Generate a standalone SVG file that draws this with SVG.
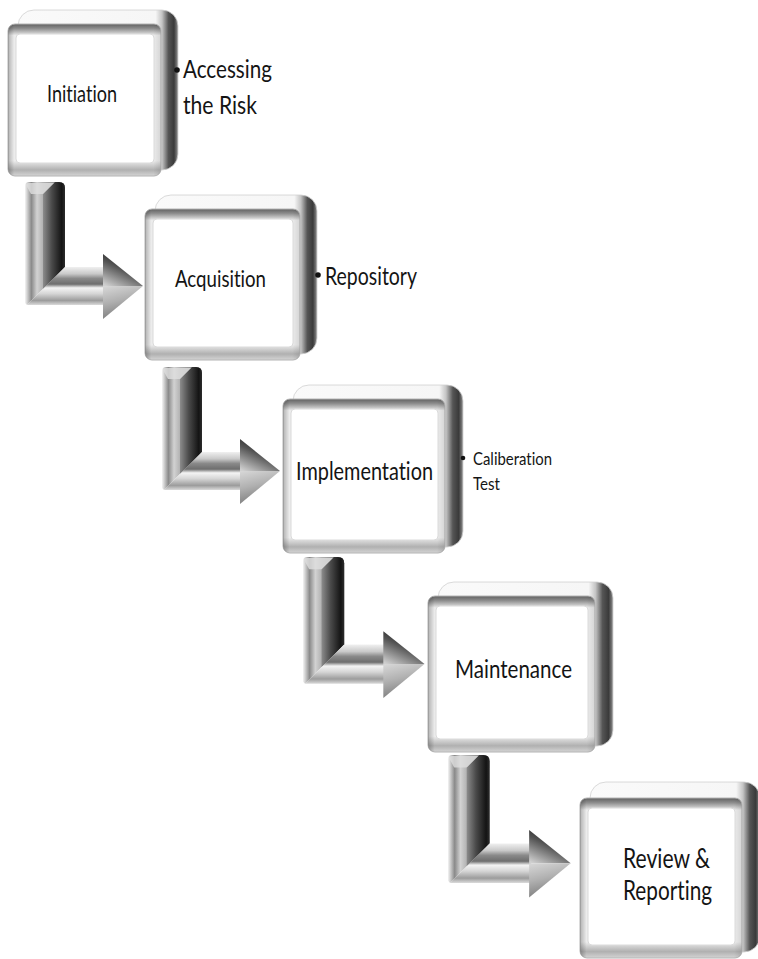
<svg xmlns="http://www.w3.org/2000/svg" width="758" height="959" viewBox="0 0 758 959">
  <style>
    .lbl { font-family: Lato, "Open Sans", "Liberation Sans", sans-serif; fill: #141414; font-variant-ligatures: none; font-feature-settings: "liga" 0; }
    .frame { fill: url(#frameGrad); stroke: #b4b4b4; stroke-width: 1; }
    .frameSide { fill: url(#frameSide); }
    .ext { fill: url(#extGrad); stroke: #d0d0d0; stroke-width: 0.8; }
    .face { fill: #ffffff; stroke: #dadada; stroke-width: 1; }
    .dot { fill: #111111; }
  </style>
  <defs>
    <!-- extruded back of each box: near-white top, dark rounded right side -->
    <linearGradient id="extGrad" x1="0" y1="0" x2="1" y2="0">
      <stop offset="0" stop-color="#fafafa"/>
      <stop offset="0.86" stop-color="#f6f6f6"/>
      <stop offset="0.9" stop-color="#c4c4c4"/>
      <stop offset="0.94" stop-color="#555555"/>
      <stop offset="0.975" stop-color="#3a3a3a"/>
      <stop offset="1" stop-color="#909090"/>
    </linearGradient>
    <!-- bevelled front frame -->
    <linearGradient id="frameGrad" x1="0" y1="0" x2="0" y2="1">
      <stop offset="0" stop-color="#606060"/>
      <stop offset="0.03" stop-color="#8e8e8e"/>
      <stop offset="0.075" stop-color="#ececec"/>
      <stop offset="0.9" stop-color="#ececec"/>
      <stop offset="0.96" stop-color="#b0b0b0"/>
      <stop offset="1" stop-color="#d4d4d4"/>
    </linearGradient>
    <linearGradient id="frameSide" x1="0" y1="0" x2="1" y2="0">
      <stop offset="0" stop-color="#000" stop-opacity="0.25"/>
      <stop offset="0.04" stop-color="#000" stop-opacity="0"/>
      <stop offset="0.95" stop-color="#000" stop-opacity="0"/>
      <stop offset="1" stop-color="#000" stop-opacity="0.1"/>
    </linearGradient>
    <!-- L-arrow shading -->
    <linearGradient id="aLeft" x1="0" y1="0" x2="1" y2="0">
      <stop offset="0" stop-color="#f4f4f4"/>
      <stop offset="0.07" stop-color="#c6c6c6"/>
      <stop offset="0.16" stop-color="#8a8a8a"/>
      <stop offset="0.3" stop-color="#d2d2d2"/>
      <stop offset="0.45" stop-color="#b2b2b2"/>
      <stop offset="1" stop-color="#707070"/>
    </linearGradient>
    <linearGradient id="aDark" x1="0" y1="0" x2="1" y2="0">
      <stop offset="0" stop-color="#8c8c8c"/>
      <stop offset="0.4" stop-color="#4a4a4a"/>
      <stop offset="0.85" stop-color="#141414"/>
      <stop offset="1" stop-color="#2c2c2c"/>
    </linearGradient>
    <linearGradient id="aShaft" x1="0" y1="0" x2="0" y2="1">
      <stop offset="0" stop-color="#f0f0f0"/>
      <stop offset="0.18" stop-color="#c9c9c9"/>
      <stop offset="0.3" stop-color="#8a8a8a"/>
      <stop offset="0.45" stop-color="#6e6e6e"/>
      <stop offset="0.55" stop-color="#f4f4f4"/>
      <stop offset="0.7" stop-color="#d6d6d6"/>
      <stop offset="0.88" stop-color="#9c9c9c"/>
      <stop offset="1" stop-color="#dadada"/>
    </linearGradient>
    <linearGradient id="aHeadTop" x1="0.7" y1="0" x2="0.1" y2="1">
      <stop offset="0" stop-color="#0c0c0c"/>
      <stop offset="0.45" stop-color="#545454"/>
      <stop offset="1" stop-color="#cfcfcf"/>
    </linearGradient>
    <linearGradient id="aHeadBot" x1="0" y1="0" x2="0.3" y2="1">
      <stop offset="0" stop-color="#d8d8d8"/>
      <stop offset="0.5" stop-color="#b0b0b0"/>
      <stop offset="1" stop-color="#7c7c7c"/>
    </linearGradient>
    <g id="lArrow">
      <path d="M0,4 Q0,0 4,0 L34,0 Q40,0 40,6 L40,85 L2,123 L0,121 Z" fill="url(#aLeft)"/>
      <path d="M18,12 L30,0 L34,0 Q40,0 40,6 L40,85 L18,107 Z" fill="url(#aDark)"/>
      <path d="M1,3 Q1,1 4,1 L29,1 L18,12 L6,12 Z" fill="#dedede" opacity="0.8"/>
      <path d="M40,85 L80,85 L80,123 L2,123 Z" fill="url(#aShaft)"/>
      <path d="M78,72 L118,104 L78,104 Z" fill="url(#aHeadTop)"/>
      <path d="M78,104 L118,104 L78,137 Z" fill="url(#aHeadBot)"/>
    </g>
  </defs>

  <rect width="758" height="959" fill="#ffffff"/>

  <!-- connectors: bevelled L-shaped arrows between the stages -->
  <g id="connectors">
    <use href="#lArrow" transform="translate(25,182)"/>
    <use href="#lArrow" transform="translate(162,367)"/>
    <use href="#lArrow" transform="translate(303,557) scale(1.03)"/>
    <use href="#lArrow" transform="translate(448,755) scale(1.04)"/>
  </g>

  <!-- stage 1 -->
  <g id="initiation">
    <rect class="ext" x="18" y="10" width="160" height="160" rx="16"/>
    <rect class="frame" x="8" y="24" width="153" height="152" rx="7"/>
    <rect class="frameSide" x="8" y="24" width="153" height="152" rx="7"/>
    <rect class="face" x="16" y="34" width="138" height="129" rx="4"/>
    <text class="lbl" x="47" y="102" font-size="23" textLength="70" lengthAdjust="spacingAndGlyphs">Initiation</text>
    <circle class="dot" cx="177" cy="70" r="2.8"/>
    <text class="lbl" x="183" y="78" font-size="25" textLength="89" lengthAdjust="spacingAndGlyphs">Accessing</text>
    <text class="lbl" x="183" y="114" font-size="25" textLength="74" lengthAdjust="spacingAndGlyphs">the Risk</text>
  </g>

  <!-- stage 2 -->
  <g id="acquisition">
    <rect class="ext" x="155" y="195" width="162" height="159" rx="16"/>
    <rect class="frame" x="145" y="209" width="155" height="151" rx="7"/>
    <rect class="frameSide" x="145" y="209" width="155" height="151" rx="7"/>
    <rect class="face" x="153" y="219" width="140" height="128" rx="4"/>
    <text class="lbl" x="175" y="287" font-size="23" textLength="91" lengthAdjust="spacingAndGlyphs">Acquisition</text>
    <circle class="dot" cx="318" cy="275" r="2.8"/>
    <text class="lbl" x="325" y="285" font-size="25" textLength="92" lengthAdjust="spacingAndGlyphs">Repository</text>
  </g>

  <!-- stage 3 -->
  <g id="implementation">
    <rect class="ext" x="293" y="385" width="170" height="162" rx="16"/>
    <rect class="frame" x="283" y="399" width="162" height="154" rx="7"/>
    <rect class="frameSide" x="283" y="399" width="162" height="154" rx="7"/>
    <rect class="face" x="291" y="409" width="147" height="131" rx="4"/>
    <text class="lbl" x="296" y="480" font-size="25" textLength="137" lengthAdjust="spacingAndGlyphs">Implementation</text>
    <circle class="dot" cx="463" cy="458" r="2.3"/>
    <text class="lbl" x="473" y="465" font-size="18" textLength="79" lengthAdjust="spacingAndGlyphs">Caliberation</text>
    <text class="lbl" x="473" y="490" font-size="18" textLength="27" lengthAdjust="spacingAndGlyphs">Test</text>
  </g>

  <!-- stage 4 -->
  <g id="maintenance">
    <rect class="ext" x="438" y="582" width="175" height="164" rx="16"/>
    <rect class="frame" x="428" y="596" width="167" height="156" rx="7"/>
    <rect class="frameSide" x="428" y="596" width="167" height="156" rx="7"/>
    <rect class="face" x="436" y="606" width="152" height="133" rx="4"/>
    <text class="lbl" x="455" y="678" font-size="25" textLength="117" lengthAdjust="spacingAndGlyphs">Maintenance</text>
  </g>

  <!-- stage 5 -->
  <g id="review-reporting">
    <rect class="ext" x="590" y="782" width="170" height="170" rx="16"/>
    <rect class="frame" x="580" y="798" width="162" height="160" rx="7"/>
    <rect class="frameSide" x="580" y="798" width="162" height="160" rx="7"/>
    <rect class="face" x="588" y="808" width="147" height="137" rx="4"/>
    <text class="lbl" x="623" y="868" font-size="27" textLength="87" lengthAdjust="spacingAndGlyphs">Review &amp;</text>
    <text class="lbl" x="623" y="900" font-size="27" textLength="89" lengthAdjust="spacingAndGlyphs">Reporting</text>
  </g>
</svg>
